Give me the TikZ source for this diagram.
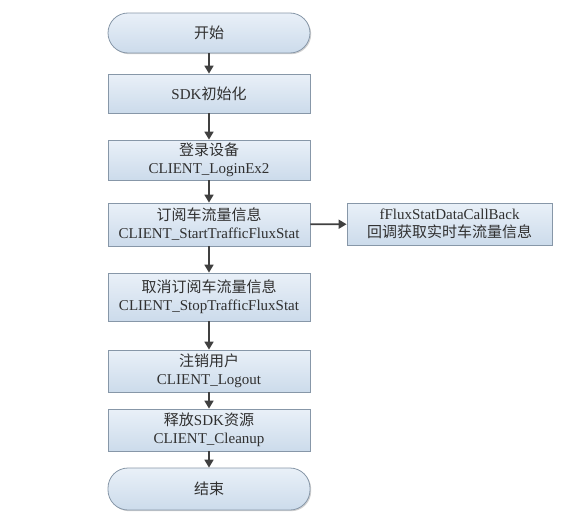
\documentclass[tikz,border=0pt]{standalone}
\usepackage{fontspec}
\setmainfont{Liberation Serif}
\newfontfamily\cjk{Noto Sans CJK SC}
\usetikzlibrary{arrows.meta,shadows}
\definecolor{boxtop}{HTML}{E9F0F8}
\definecolor{boxbot}{HTML}{CCDBEB}
\definecolor{boxline}{HTML}{8797A8}
\definecolor{arrowc}{HTML}{404040}
\definecolor{txtc}{HTML}{303030}
\tikzset{
  base/.style={draw=boxline, line width=0.8pt, top color=boxtop, bottom color=boxbot,
    minimum width=202pt, inner sep=1pt, align=center, text=txtc,
    font=\fontsize{15pt}{18pt}\selectfont,
    drop shadow={shadow xshift=1.2pt, shadow yshift=-1.2pt, fill=black, opacity=0.18}},
  procbox/.style={base, rectangle},
  termbox/.style={base, rectangle, rounded corners=20pt},
  flow/.style={draw=arrowc, line width=1.7pt, -{Triangle[length=8pt,width=9pt]}}
}
\begin{document}
\begin{tikzpicture}[x=1pt,y=-1pt]
\useasboundingbox (0,0) rectangle (581,522);
\node[termbox, minimum height=40pt] (start) at (209,33) {\cjk 开始};
\node[procbox, minimum height=39pt] (sdk) at (209,93.5) {SDK{\cjk 初始化}};
\node[procbox, minimum height=40pt] (login) at (209,160) {{\cjk 登录设备}\\CLIENT\_LoginEx2};
\node[procbox, minimum height=43pt] (sub) at (209,224.5) {{\cjk 订阅车流量信息}\\CLIENT\_StartTrafficFluxStat};
\node[procbox, minimum height=42pt, minimum width=205pt] (cb) at (449.5,224) {fFluxStatDataCallBack\\{\cjk 回调获取实时车流量信息}};
\node[procbox, minimum height=48pt] (cancel) at (209,297) {{\cjk 取消订阅车流量信息}\\CLIENT\_StopTrafficFluxStat};
\node[procbox, minimum height=42pt] (logout) at (209,371) {{\cjk 注销用户}\\CLIENT\_Logout};
\node[procbox, minimum height=42pt] (clean) at (209,430) {{\cjk 释放}SDK{\cjk 资源}\\CLIENT\_Cleanup};
\node[termbox, minimum height=42pt] (end) at (209,489) {\cjk 结束};
\draw[flow] (start) -- (sdk);
\draw[flow] (sdk) -- (login);
\draw[flow] (login) -- (sub);
\draw[flow] (sub) -- (cancel);
\draw[flow] (sub) -- (cb);
\draw[flow] (cancel) -- (logout);
\draw[flow] (logout) -- (clean);
\draw[flow] (clean) -- (end);
\end{tikzpicture}
\end{document}
